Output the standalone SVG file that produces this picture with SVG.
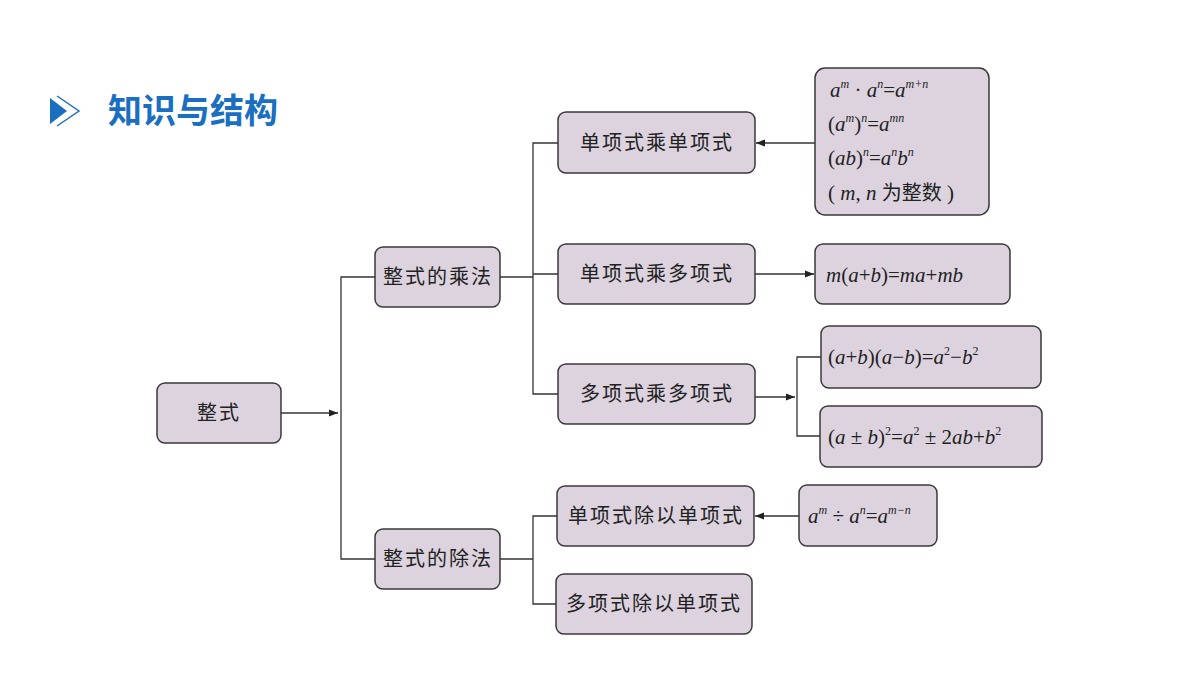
<svg xmlns="http://www.w3.org/2000/svg" width="1200" height="675" viewBox="0 0 1200 675">
<style>
.b{fill:#dcd3df;stroke:#3a3a3a;stroke-width:1.5}
.t{font-family:"Noto Sans CJK SC","Noto Sans CJK JP",sans-serif;font-size:20px;fill:#222;text-anchor:middle;letter-spacing:2px}
.m{font-family:"Liberation Serif",serif;font-style:italic;font-size:21px;fill:#222}
.u{font-style:normal}
.c{fill:none;stroke:#333;stroke-width:1.3}
</style>
<defs><marker id="a" viewBox="0 0 10 10" refX="10" refY="5" markerWidth="9" markerHeight="9" markerUnits="userSpaceOnUse" orient="auto"><path d="M0,1 L10,5 L0,9 Z" fill="#222"/></marker></defs>
<g id="title">
<path d="M50,98 L67,111 L50,124 Z" fill="#1a6fc0"/>
<path d="M57,96 L79,111 L57,126" fill="none" stroke="#1a6fc0" stroke-width="1.5"/>
<text x="108" y="123" font-family="Noto Sans CJK SC,sans-serif" font-weight="bold" font-size="34" fill="#1a6fc0">知识与结构</text>
</g>
<g id="connectors" class="c">
<path d="M281,413 H338" marker-end="url(#a)"/>
<path d="M375,277 H341 V559 H375"/>
<path d="M500,277 H533"/>
<path d="M558,143 H533 V394 H558 M533,274 H558"/>
<path d="M500,559 H533"/>
<path d="M557,516 H533 V604 H556"/>
<path d="M815,143 H756" marker-end="url(#a)"/>
<path d="M755,274 H814" marker-end="url(#a)"/>
<path d="M755,397 H795" marker-end="url(#a)"/>
<path d="M821,357 H797 V436 H820"/>
<path d="M799,516 H755" marker-end="url(#a)"/>
</g>
<g id="n1"><rect class="b" x="157" y="383" width="124" height="60" rx="8"/><text class="t" x="219" y="420">整式</text></g>
<g id="n2"><rect class="b" x="375" y="247" width="125" height="60" rx="8"/><text class="t" x="438" y="284">整式的乘法</text></g>
<g id="n3"><rect class="b" x="375" y="529" width="125" height="60" rx="8"/><text class="t" x="438" y="566">整式的除法</text></g>
<g id="n4"><rect class="b" x="558" y="112" width="197" height="61" rx="8"/><text class="t" x="657" y="150">单项式乘单项式</text></g>
<g id="n5"><rect class="b" x="558" y="244" width="197" height="60" rx="8"/><text class="t" x="657" y="281">单项式乘多项式</text></g>
<g id="n6"><rect class="b" x="558" y="364" width="197" height="60" rx="8"/><text class="t" x="657" y="401">多项式乘多项式</text></g>
<g id="n7"><rect class="b" x="557" y="486" width="197" height="60" rx="8"/><text class="t" x="656" y="523">单项式除以单项式</text></g>
<g id="n8"><rect class="b" x="556" y="574" width="196" height="60" rx="8"/><text class="t" x="654" y="611">多项式除以单项式</text></g>
<g id="f1"><rect class="b" x="815" y="68" width="174" height="147" rx="10"/>
<text class="m" x="830" y="97">a<tspan font-size="12" dy="-9">m</tspan><tspan class="u" dy="9"> · </tspan>a<tspan font-size="12" dy="-9">n</tspan><tspan class="u" dy="9">=</tspan>a<tspan font-size="12" dy="-9">m+n</tspan></text>
<text class="m" x="828" y="131"><tspan class="u">(</tspan>a<tspan font-size="12" dy="-9">m</tspan><tspan class="u" dy="9">)</tspan><tspan font-size="12" dy="-9">n</tspan><tspan class="u" dy="9">=</tspan>a<tspan font-size="12" dy="-9">mn</tspan></text>
<text class="m" x="828" y="165"><tspan class="u">(</tspan>ab<tspan class="u">)</tspan><tspan font-size="12" dy="-9">n</tspan><tspan class="u" dy="9">=</tspan>a<tspan font-size="12" dy="-9">n</tspan><tspan dy="9">b</tspan><tspan font-size="12" dy="-9">n</tspan></text>
<text class="m" x="828" y="200"><tspan class="u">( </tspan>m<tspan class="u">, </tspan>n <tspan class="u" font-family="Noto Sans CJK SC,sans-serif" font-size="20">为整数</tspan><tspan class="u"> )</tspan></text>
</g>
<g id="f2"><rect class="b" x="815" y="244" width="195" height="60" rx="8"/><text class="m" x="826" y="282">m<tspan class="u">(</tspan>a<tspan class="u">+</tspan>b<tspan class="u">)=</tspan>ma<tspan class="u">+</tspan>mb</text></g>
<g id="f3"><rect class="b" x="821" y="326" width="220" height="62" rx="8"/><text class="m" x="828" y="364"><tspan class="u">(</tspan>a<tspan class="u">+</tspan>b<tspan class="u">)(</tspan>a<tspan class="u">−</tspan>b<tspan class="u">)=</tspan>a<tspan class="u" font-size="12" dy="-9">2</tspan><tspan class="u" dy="9">−</tspan>b<tspan class="u" font-size="12" dy="-9">2</tspan></text></g>
<g id="f4"><rect class="b" x="820" y="406" width="222" height="61" rx="8"/><text class="m" x="828" y="444"><tspan class="u">(</tspan>a<tspan class="u"> ± </tspan>b<tspan class="u">)</tspan><tspan class="u" font-size="12" dy="-9">2</tspan><tspan class="u" dy="9">=</tspan>a<tspan class="u" font-size="12" dy="-9">2</tspan><tspan class="u" dy="9"> ± 2</tspan>ab<tspan class="u">+</tspan>b<tspan class="u" font-size="12" dy="-9">2</tspan></text></g>
<g id="f5"><rect class="b" x="799" y="485" width="138" height="61" rx="8"/><text class="m" x="808" y="523">a<tspan font-size="12" dy="-9">m</tspan><tspan class="u" dy="9"> ÷ </tspan>a<tspan font-size="12" dy="-9">n</tspan><tspan class="u" dy="9">=</tspan>a<tspan font-size="12" dy="-9">m−n</tspan></text></g>
</svg>
